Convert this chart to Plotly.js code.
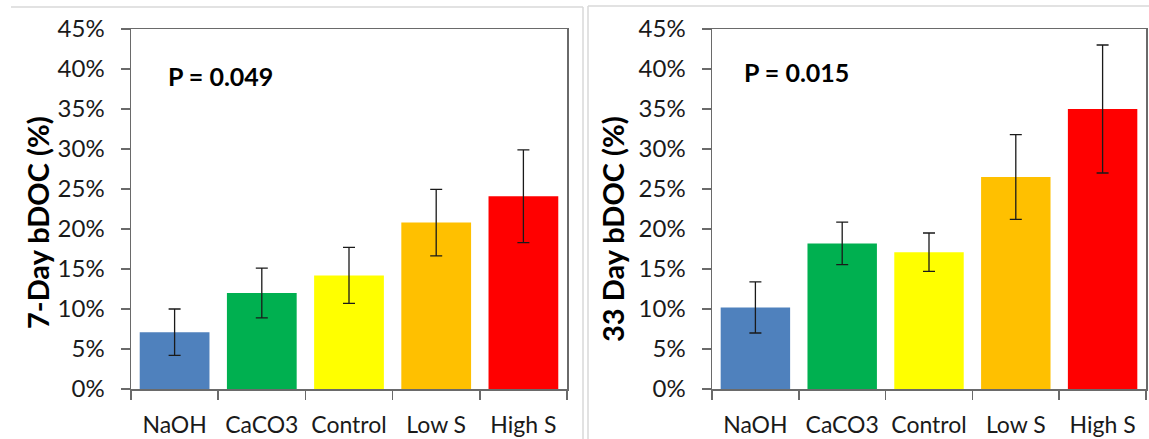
<!DOCTYPE html>
<html>
<head>
<meta charset="utf-8">
<script src="https://cdn.plot.ly/plotly-3.0.1.min.js"></script>
<style>html,body{margin:0;padding:0;background:#fff;}#chart{width:1149px;height:439px;}</style>
</head>
<body>
<div id="chart"></div>
<script>
const categories = ["NaOH", "CaCO3", "Control", "Low S", "High S"];
const day7Values = [7.1, 12.0, 14.2, 20.8, 24.1];
const day7Errors = [2.9, 3.1, 3.5, 4.15, 5.8];
const day33Values = [10.2, 18.2, 17.1, 26.5, 35.0];
const day33Errors = [3.2, 2.65, 2.4, 5.3, 8.0];
const barColors = ["#4F81BD", "#00B050", "#FFFF00", "#FFC000", "#FF0000"];
const yTickVals = [0, 5, 10, 15, 20, 25, 30, 35, 40, 45];
const yTickText = ["0%", "5%", "10%", "15%", "20%", "25%", "30%", "35%", "40%", "45%"];
const pLeft = "P = 0.049";
const pRight = "P = 0.015";
const titleLeft = "7-Day bDOC (%)";
const titleRight = "33 Day bDOC (%)";

const W = 1149, H = 439;
const px = v => v / W;
const py = v => 1 - v / H;

const FONT = "Lato, 'Open Sans', sans-serif";
const axisColor = "#6a6a6a";

function barTrace(vals, errs, xa, ya) {
  return {
    type: "bar",
    x: categories,
    y: vals,
    xaxis: xa, yaxis: ya,
    marker: {color: barColors, line: {width: 0}},
    error_y: {type: "data", array: errs, visible: true, color: "#1a1a1a", thickness: 1.3, width: 6},
    hoverinfo: "x+y",
    showlegend: false
  };
}

function xAxis(domain, anchor) {
  return {
    domain: domain, anchor: anchor,
    type: "category",
    showline: true, linecolor: axisColor, linewidth: 1.5, mirror: true,
    ticks: "outside", tickson: "boundaries", ticklen: 9, tickcolor: axisColor, tickwidth: 1.5,
    showgrid: false, zeroline: false,
    tickangle: 0,
    tickfont: {family: FONT, size: 23, color: "#1a1a1a"},
    ticklabelstandoff: 15,
    fixedrange: true
  };
}
function yAxis(domain, anchor) {
  return {
    domain: domain, anchor: anchor,
    range: [0, 45],
    tickvals: yTickVals, ticktext: yTickText,
    showline: true, linecolor: axisColor, linewidth: 1.5, mirror: true,
    ticks: "outside", ticklen: 9, tickcolor: axisColor, tickwidth: 1.5,
    showgrid: false, zeroline: false,
    tickfont: {family: FONT, size: 24, color: "#1a1a1a"},
    ticklabelstandoff: 11,
    fixedrange: true
  };
}

const yDom = [py(389), py(29)];
const layout = {
  width: W, height: H,
  margin: {l: 0, r: 0, t: 0, b: 0},
  paper_bgcolor: "#ffffff", plot_bgcolor: "#ffffff",
  bargap: 0.2,
  xaxis: xAxis([px(131), px(567)], "y"),
  yaxis: yAxis(yDom, "x"),
  xaxis2: xAxis([px(712), px(1146)], "y2"),
  yaxis2: yAxis(yDom, "x2"),
  annotations: [
    {text: "<b>" + pLeft + "</b>", xref: "paper", yref: "paper", x: px(220), y: py(76),
     xanchor: "center", yanchor: "middle", showarrow: false, font: {family: FONT, size: 25, color: "#000"}},
    {text: "<b>" + pRight + "</b>", xref: "paper", yref: "paper", x: px(796), y: py(72),
     xanchor: "center", yanchor: "middle", showarrow: false, font: {family: FONT, size: 25, color: "#000"}},
    {text: "<b>" + titleLeft + "</b>", xref: "paper", yref: "paper", x: px(37), y: py(223),
     xanchor: "center", yanchor: "middle", textangle: -90, showarrow: false, font: {family: FONT, size: 29, color: "#000"}},
    {text: "<b>" + titleRight + "</b>", xref: "paper", yref: "paper", x: px(612), y: py(229),
     xanchor: "center", yanchor: "middle", textangle: -90, showarrow: false, font: {family: FONT, size: 29, color: "#000"}}
  ],
  shapes: [
    {type: "line", xref: "paper", yref: "paper", x0: px(11), x1: px(583), y0: py(7), y1: py(7), line: {color: "#d9d9d9", width: 1.5}},
    {type: "line", xref: "paper", yref: "paper", x0: px(583), x1: px(583), y0: py(7), y1: 0, line: {color: "#d9d9d9", width: 1.5}},
    {type: "line", xref: "paper", yref: "paper", x0: px(588), x1: px(588), y0: py(6), y1: 0, line: {color: "#d9d9d9", width: 1.5}},
    {type: "line", xref: "paper", yref: "paper", x0: px(588), x1: 1, y0: py(6), y1: py(6), line: {color: "#d9d9d9", width: 1.5}}
  ]
};

Plotly.newPlot("chart", [
  barTrace(day7Values, day7Errors, "x", "y"),
  barTrace(day33Values, day33Errors, "x2", "y2")
], layout, {displayModeBar: false, staticPlot: true});
</script>
</body>
</html>
